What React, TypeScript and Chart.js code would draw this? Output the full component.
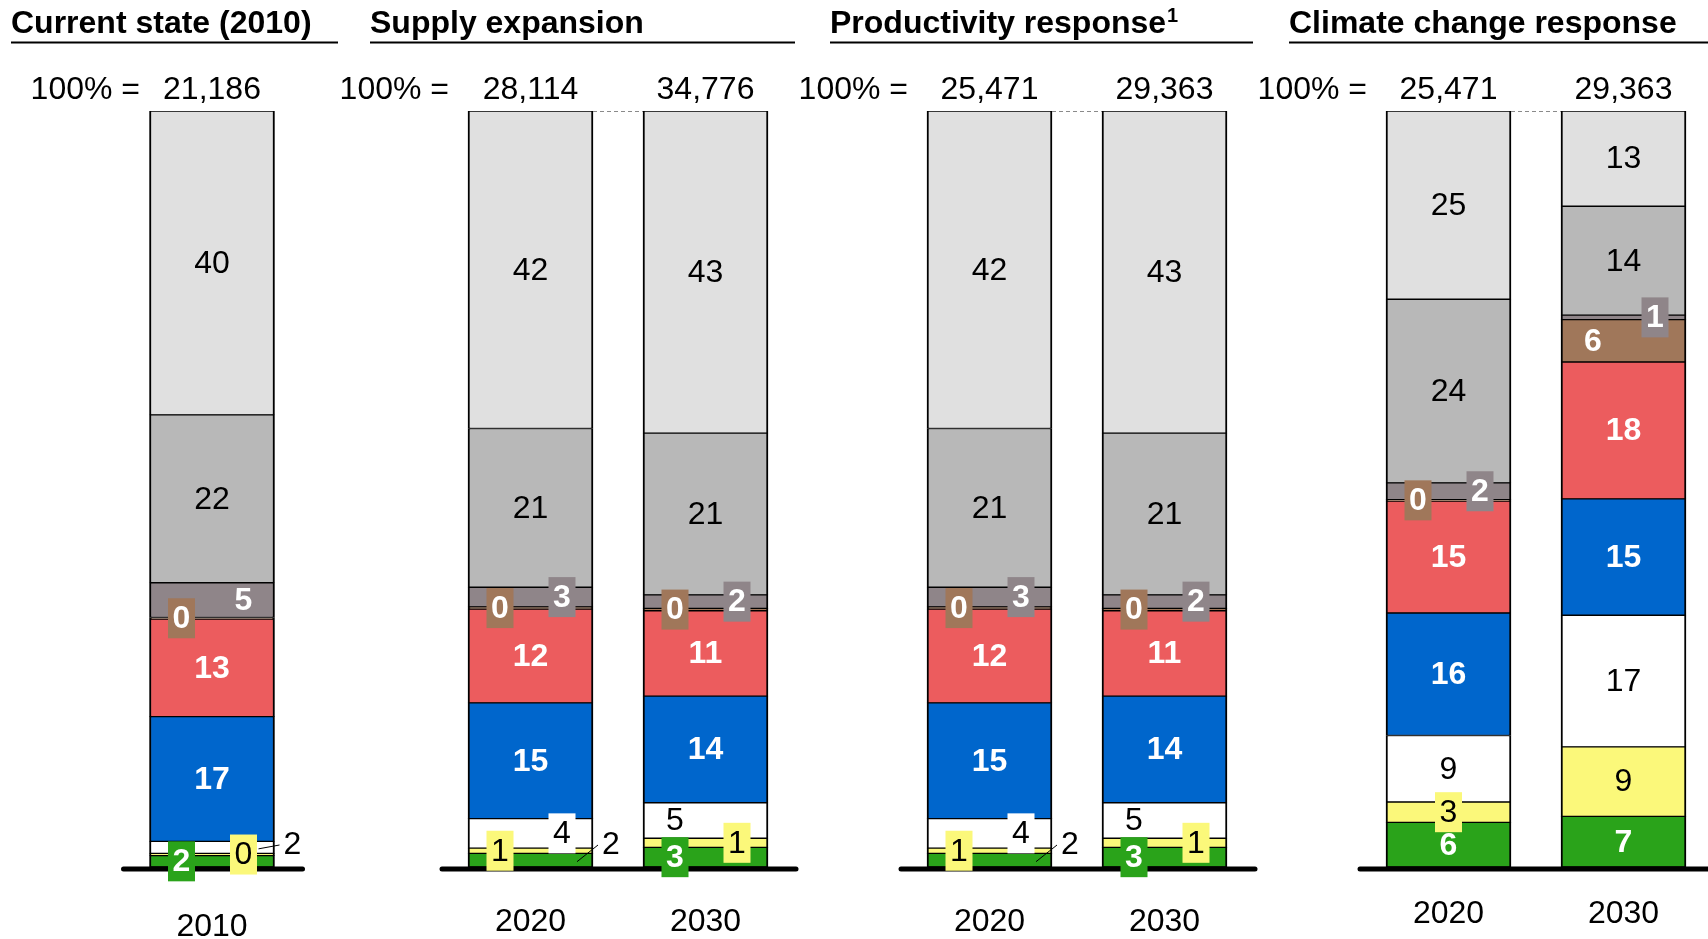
import React, { useEffect, useRef } from "react";
import { Chart, registerables } from "chart.js";

Chart.register(...registerables);

const WIDTH = 1708;
const HEIGHT = 939;
const FONT = '"Liberation Sans", Arial, Helvetica, sans-serif';

// Stack order, bottom to top
const segmentKeys = ["green", "yellow", "white", "blue", "red", "brown", "mauve", "grey", "lightGrey"];
const segmentColors = ["#2AA31A", "#FBF87A", "#FFFFFF", "#0066CC", "#EC5C5E", "#A0775A", "#8F8589", "#B8B8B8", "#E0E0E0"];
const segmentOnDark = [true, false, false, true, true, true, true, false, false];

// Shares of each bar, percent (bottom to top, same order as segmentKeys)
const current2010 = [1.5, 0.3, 1.6, 16.5, 12.9, 0.2, 4.6, 22.2, 40.2];
const supply2020 = [1.8, 0.7, 3.9, 15.3, 12.4, 0.3, 2.6, 21.0, 42.0];
const supply2030 = [2.6, 1.2, 4.7, 14.1, 11.3, 0.3, 1.8, 21.4, 42.6];
const productivity2020 = [1.8, 0.7, 3.9, 15.3, 12.4, 0.3, 2.6, 21.0, 42.0];
const productivity2030 = [2.6, 1.2, 4.7, 14.1, 11.3, 0.3, 1.8, 21.4, 42.6];
const climate2020 = [5.9, 2.7, 8.8, 16.2, 14.8, 0.2, 2.2, 24.3, 24.9];
const climate2030 = [6.7, 9.2, 17.4, 15.4, 18.1, 5.6, 0.6, 14.4, 12.6];

// Bar totals (the "100% =" row)
const currentTotals = [21186];
const supplyTotals = [28114, 34776];
const productivityTotals = [25471, 29363];
const climateTotals = [25471, 29363];

const currentYears = ["2010"];
const scenarioYears = ["2020", "2030"];

const panelTitles = ["Current state (2010)", "Supply expansion", "Productivity response", "Climate change response"];
const panelFootnotes = ["", "", "1", ""];

type LabelKind = "center" | "plain" | "box" | "leader";
type Slot = "left" | "center" | "right";
type LabelSpec = { kind: LabelKind; slot?: Slot };
type LabelMap = Record<number, LabelSpec>;

// Where the small-segment labels go (keyed by segment index)
const labels2010: LabelMap = {
  0: { kind: "box", slot: "left" },
  1: { kind: "box", slot: "right" },
  2: { kind: "leader" },
  5: { kind: "box", slot: "left" },
  6: { kind: "plain", slot: "right" },
};
const labelsEarly: LabelMap = {
  0: { kind: "leader" },
  1: { kind: "box", slot: "left" },
  2: { kind: "box", slot: "right" },
  5: { kind: "box", slot: "left" },
  6: { kind: "box", slot: "right" },
};
const labelsLate: LabelMap = {
  0: { kind: "box", slot: "left" },
  1: { kind: "box", slot: "right" },
  2: { kind: "plain", slot: "left" },
  5: { kind: "box", slot: "left" },
  6: { kind: "box", slot: "right" },
};
const labelsClimate2020: LabelMap = {
  1: { kind: "box", slot: "center" },
  5: { kind: "box", slot: "left" },
  6: { kind: "box", slot: "right" },
};
const labelsClimate2030: LabelMap = {
  5: { kind: "plain", slot: "left" },
  6: { kind: "box", slot: "right" },
};

type Panel = {
  title: string;
  footnote: string;
  years: string[];
  totals: number[];
  series: number[][];
  labels: LabelMap[];
  areaLeft: number;
  areaRight: number;
  titleX: number;
  underlineEnd: number;
  eqRight: number;
  yearY: number;
};

const panels: Panel[] = [
  {
    title: panelTitles[0], footnote: panelFootnotes[0], years: currentYears, totals: currentTotals,
    series: [current2010], labels: [labels2010],
    areaLeft: 137, areaRight: 287, titleX: 11, underlineEnd: 338, eqRight: 140, yearY: 927,
  },
  {
    title: panelTitles[1], footnote: panelFootnotes[1], years: scenarioYears, totals: supplyTotals,
    series: [supply2020, supply2030], labels: [labelsEarly, labelsLate],
    areaLeft: 443, areaRight: 793, titleX: 370, underlineEnd: 795, eqRight: 449, yearY: 922,
  },
  {
    title: panelTitles[2], footnote: panelFootnotes[2], years: scenarioYears, totals: productivityTotals,
    series: [productivity2020, productivity2030], labels: [labelsEarly, labelsLate],
    areaLeft: 902, areaRight: 1252, titleX: 830, underlineEnd: 1253, eqRight: 908, yearY: 922,
  },
  {
    // plot area runs slightly past the visible edge so the pair keeps the same spacing
    title: panelTitles[3], footnote: panelFootnotes[3], years: scenarioYears, totals: climateTotals,
    series: [climate2020, climate2030], labels: [labelsClimate2020, labelsClimate2030],
    areaLeft: 1361, areaRight: 1711, titleX: 1289, underlineEnd: WIDTH, eqRight: 1367, yearY: 914,
  },
];

const fmt = (n: number) => n.toLocaleString("en-US");
const TEXT_PX = 32;

function makeDecorPlugin(panel: Panel) {
  return {
    id: "panelDecor",
    afterDatasetsDraw(chart: any) {
      const ctx: CanvasRenderingContext2D = chart.ctx;
      const n = segmentKeys.length;
      const metas = segmentKeys.map((_, i) => chart.getDatasetMeta(i));
      const bars = panel.years.map((_, j) => {
        const first = metas[0].data[j].getProps(["x", "width", "base"], true);
        const last = metas[n - 1].data[j].getProps(["y"], true);
        return {
          x: first.x,
          left: first.x - first.width / 2,
          right: first.x + first.width / 2,
          bottom: first.base,
          top: last.y,
        };
      });

      ctx.save();
      ctx.fillStyle = "#000";
      ctx.strokeStyle = "#000";

      // Panel heading, optional footnote mark, and rule
      ctx.font = `bold 32px ${FONT}`;
      ctx.textAlign = "left";
      ctx.textBaseline = "alphabetic";
      ctx.fillText(panel.title, panel.titleX, 33);
      if (panel.footnote) {
        const tw = ctx.measureText(panel.title).width;
        ctx.font = `bold 20px ${FONT}`;
        ctx.fillText(panel.footnote, panel.titleX + tw + 1, 22);
      }
      ctx.lineWidth = 2;
      ctx.beginPath();
      ctx.moveTo(panel.titleX, 42.5);
      ctx.lineTo(panel.underlineEnd, 42.5);
      ctx.stroke();

      // "100% =" row
      ctx.font = `${TEXT_PX}px ${FONT}`;
      ctx.textAlign = "right";
      ctx.fillText("100% =", panel.eqRight, 99);
      ctx.textAlign = "center";
      bars.forEach((b, j) => ctx.fillText(fmt(panel.totals[j]), b.x, 99));

      // Dashed link between bar tops
      if (bars.length > 1) {
        ctx.save();
        ctx.strokeStyle = "#8a8a8a";
        ctx.lineWidth = 1;
        ctx.setLineDash([4, 3]);
        ctx.beginPath();
        ctx.moveTo(bars[0].right, bars[0].top + 0.5);
        ctx.lineTo(bars[1].left, bars[1].top + 0.5);
        ctx.stroke();
        ctx.restore();
      }

      // Base line
      ctx.lineWidth = 5;
      ctx.lineCap = "round";
      ctx.beginPath();
      ctx.moveTo(bars[0].left - 26, bars[0].bottom + 2);
      ctx.lineTo(bars[bars.length - 1].right + 28, bars[0].bottom + 2);
      ctx.stroke();
      ctx.lineCap = "butt";

      // Year labels
      ctx.font = `${TEXT_PX}px ${FONT}`;
      ctx.textAlign = "center";
      ctx.textBaseline = "middle";
      bars.forEach((b, j) => ctx.fillText(panel.years[j], b.x, panel.yearY));

      // Segment values
      bars.forEach((b, j) => {
        const values = panel.series[j];
        const specs = panel.labels[j];
        for (let i = 0; i < n; i++) {
          const el = metas[i].data[j].getProps(["y", "base"], true);
          const cy = (el.y + el.base) / 2;
          const text = String(Math.round(values[i]));
          const spec: LabelSpec = specs[i] || { kind: "center" };
          const slot = spec.slot || "center";
          const sx = slot === "left" ? b.left + 32 : slot === "right" ? b.left + 94 : b.x;
          const dark = segmentOnDark[i];
          const textFont = dark ? `bold ${TEXT_PX}px ${FONT}` : `${TEXT_PX}px ${FONT}`;
          const textColor = dark ? "#FFFFFF" : "#000000";
          ctx.textAlign = "center";
          ctx.textBaseline = "middle";
          if (spec.kind === "center") {
            ctx.font = textFont;
            ctx.fillStyle = textColor;
            ctx.fillText(text, b.x, cy + 1);
          } else if (spec.kind === "plain") {
            ctx.font = textFont;
            ctx.fillStyle = textColor;
            ctx.fillText(text, sx, cy + 1);
          } else if (spec.kind === "box") {
            ctx.fillStyle = segmentColors[i];
            ctx.fillRect(sx - 13.5, cy - 20, 27, 40);
            ctx.font = textFont;
            ctx.fillStyle = textColor;
            ctx.fillText(text, sx, cy + 1);
          } else {
            const ty = b.bottom - 22;
            ctx.strokeStyle = "#000";
            ctx.lineWidth = 1;
            ctx.beginPath();
            ctx.moveTo(b.right - 16, cy + 1.5);
            ctx.lineTo(b.right + 5, ty);
            ctx.stroke();
            ctx.font = `${TEXT_PX}px ${FONT}`;
            ctx.fillStyle = "#000";
            ctx.fillText(text, b.right + 18, ty);
          }
        }
      });

      ctx.restore();
    },
  };
}

function PanelChart({ panel }: { panel: Panel }) {
  const ref = useRef<HTMLCanvasElement | null>(null);
  // Each panel gets a canvas wide enough for its plot area; the frame clips the overflow.
  const canvasWidth = Math.max(WIDTH, Math.ceil(panel.areaRight) + 12);

  useEffect(() => {
    if (!ref.current) return;
    const chart = new Chart(ref.current, {
      type: "bar",
      data: {
        labels: panel.years,
        datasets: segmentKeys.map((key, i) => ({
          label: key,
          data: panel.series.map((s) => s[i]),
          backgroundColor: segmentColors[i],
          borderColor: "#000000",
          borderWidth: { top: 1, bottom: 1, left: 2, right: 2 },
          borderSkipped: false,
          barThickness: 125,
        })),
      },
      options: {
        responsive: false,
        animation: false,
        events: [],
        devicePixelRatio: 1,
        layout: {
          padding: {
            left: panel.areaLeft,
            right: canvasWidth - panel.areaRight,
            top: 111,
            bottom: HEIGHT - 867,
          },
        },
        scales: {
          x: { stacked: true, display: false },
          y: { stacked: true, display: false, min: 0, max: 100 },
        },
        plugins: {
          legend: { display: false },
          tooltip: { enabled: false },
        },
      },
      plugins: [makeDecorPlugin(panel)],
    } as any);
    return () => chart.destroy();
  }, [panel, canvasWidth]);

  return (
    <canvas
      ref={ref}
      width={canvasWidth}
      height={HEIGHT}
      style={{ position: "absolute", left: 0, top: 0, width: canvasWidth, height: HEIGHT }}
    />
  );
}

export default function App() {
  return (
    <div
      style={{
        position: "fixed",
        left: 0,
        top: 0,
        width: WIDTH,
        height: HEIGHT,
        overflow: "hidden",
        background: "#FFFFFF",
      }}
    >
      {panels.map((p, k) => (
        <PanelChart key={k} panel={p} />
      ))}
    </div>
  );
}
